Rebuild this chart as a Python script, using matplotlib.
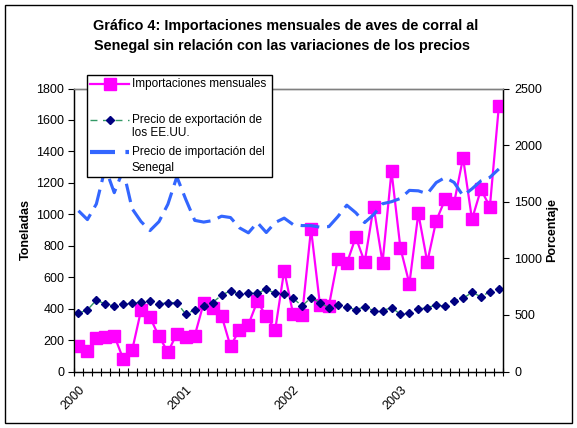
import numpy as np
import matplotlib
matplotlib.use("Agg")
import matplotlib.pyplot as plt
from matplotlib.lines import Line2D
from matplotlib.patches import Rectangle

plt.rcParams["font.family"] = ["Liberation Sans", "DejaVu Sans"]

# monthly data, Jan 2000 - Dec 2003
years = ["2000", "2001", "2002", "2003"]
imports = [160, 130, 215, 222, 228, 80, 135, 390, 344, 224, 123, 241,
           218, 228, 435, 404, 355, 160, 266, 298, 446, 351, 266, 642,
           366, 357, 906, 425, 418, 716, 687, 854, 696, 1048, 693, 1274,
           784, 558, 1006, 696, 959, 1095, 1073, 1359, 968, 1158, 1048, 1686]
us_price = [515, 544, 631, 596, 579, 593, 602, 611, 625, 596, 608, 608,
            506, 544, 582, 608, 675, 713, 681, 690, 690, 728, 690, 684,
            646, 579, 652, 608, 564, 588, 573, 544, 573, 538, 538, 564,
            506, 515, 553, 564, 588, 576, 625, 646, 699, 661, 705, 725]
senegal_price = [1420, 1342, 1480, 1800, 1580, 1780, 1438, 1324, 1245, 1324, 1478, 1720,
                 1520, 1335, 1320, 1333, 1372, 1360, 1269, 1225, 1316, 1228, 1316, 1355,
                 1298, 1289, 1289, 1275, 1280, 1368, 1469, 1403, 1316, 1386, 1482, 1500,
                 1529, 1600, 1596, 1570, 1669, 1714, 1670, 1552, 1614, 1684, 1715, 1789]

W, H = 577, 428
MAG, NAVY, GREEN, BLUE = "#FF00FF", "#000080", "#339966", "#3366FF"


def fx(x):
    return x / W


def fy(y):
    return 1 - y / H


fig = plt.figure(figsize=(W / 100, H / 100), dpi=100)
fig.add_artist(Rectangle((fx(5), fy(423)), fx(567), (418) / H, transform=fig.transFigure,
                         fill=False, edgecolor="black", linewidth=1))

ax = fig.add_axes([fx(74), fy(371.5), fx(503.3 - 74), (371.5 - 88.5) / H])
ax2 = ax.twinx()

x = np.arange(len(imports))
ax.plot(x, imports, color=MAG, lw=1.6, marker="s", ms=8, mec=MAG, mfc=MAG, zorder=3)
ax2.plot(x, us_price, color=GREEN, lw=1, ls=(0, (5, 4)), marker="D", ms=4,
         mfc=NAVY, mec=NAVY)
ax2.plot(x, senegal_price, color=BLUE, lw=2.25, ls=(0, (6, 2.5)))

ax.set_xlim(-0.5, len(imports) - 0.5)
ax.set_ylim(0, 1800)
ax2.set_ylim(0, 2500)
ax.set_yticks(np.arange(0, 1801, 200))
ax2.set_yticks(np.arange(0, 2501, 500))

ax.set_xticks(np.arange(-0.5, len(imports), 1))
ax.set_xticklabels([])
ax.set_xticks(np.arange(0, len(imports), 12), minor=True)
ax.set_xticklabels(years, minor=True, rotation=45, ha="right", va="top",
                   rotation_mode="anchor", fontsize=9)
ax.tick_params(axis="x", which="major", direction="inout", length=6, width=0.8)
ax.tick_params(axis="x", which="minor", length=0, pad=9)
ax.tick_params(axis="y", direction="out", length=4, width=0.8, pad=3, labelsize=9)
ax2.tick_params(axis="y", direction="out", length=4, width=0.8, pad=4, labelsize=9)

for a in (ax, ax2):
    a.spines["top"].set_color("#808080")
    a.spines["top"].set_linewidth(1)
    for s in ("left", "right", "bottom"):
        a.spines[s].set_linewidth(0.9)

ax.set_ylabel("Toneladas", fontsize=9, fontweight="bold")
ax2.set_ylabel("Porcentaje", fontsize=9, fontweight="bold")
ax.yaxis.set_label_coords(-0.097, 0.5)
ax2.yaxis.set_label_coords(1.1, 0.5)

fig.text(fx(286), fy(26), "Gráfico 4: Importaciones mensuales de aves de corral al",
         ha="center", va="center", fontsize=10.4, fontweight="bold")
fig.text(fx(282), fy(46), "Senegal sin relación con las variaciones de los precios",
         ha="center", va="center", fontsize=10.4, fontweight="bold")

# legend box
fig.add_artist(Rectangle((fx(86.7), fy(177.3)), fx(271.7 - 86.7), (177.3 - 75) / H,
                         transform=fig.transFigure, facecolor="white",
                         edgecolor="black", linewidth=1, zorder=10))
fig.add_artist(Line2D([fx(90), fx(129)], [fy(84), fy(84)], transform=fig.transFigure,
                      color=MAG, lw=1.6, zorder=11))
fig.add_artist(Line2D([fx(110)], [fy(84)], transform=fig.transFigure, marker="s",
                      ms=8, color=MAG, zorder=11))
fig.add_artist(Line2D([fx(90), fx(129)], [fy(120), fy(120)], transform=fig.transFigure,
                      color=GREEN, lw=1, ls=(0, (5, 4)), zorder=11))
fig.add_artist(Line2D([fx(110)], [fy(120)], transform=fig.transFigure, marker="D",
                      ms=4, color=NAVY, zorder=11))
fig.add_artist(Line2D([fx(90), fx(129)], [fy(152), fy(152)], transform=fig.transFigure,
                      color=BLUE, lw=3, ls=(0, (6, 2.5)), zorder=11))
for ty, txt in [(84, "Importaciones mensuales"), (120, "Precio de exportación de"),
                (133.5, "los EE.UU."), (152, "Precio de importación del"),
                (168, "Senegal")]:
    fig.text(fx(131.7), fy(ty), txt, ha="left", va="center", fontsize=8.5, zorder=12)

fig.savefig("out.png", dpi=100)
